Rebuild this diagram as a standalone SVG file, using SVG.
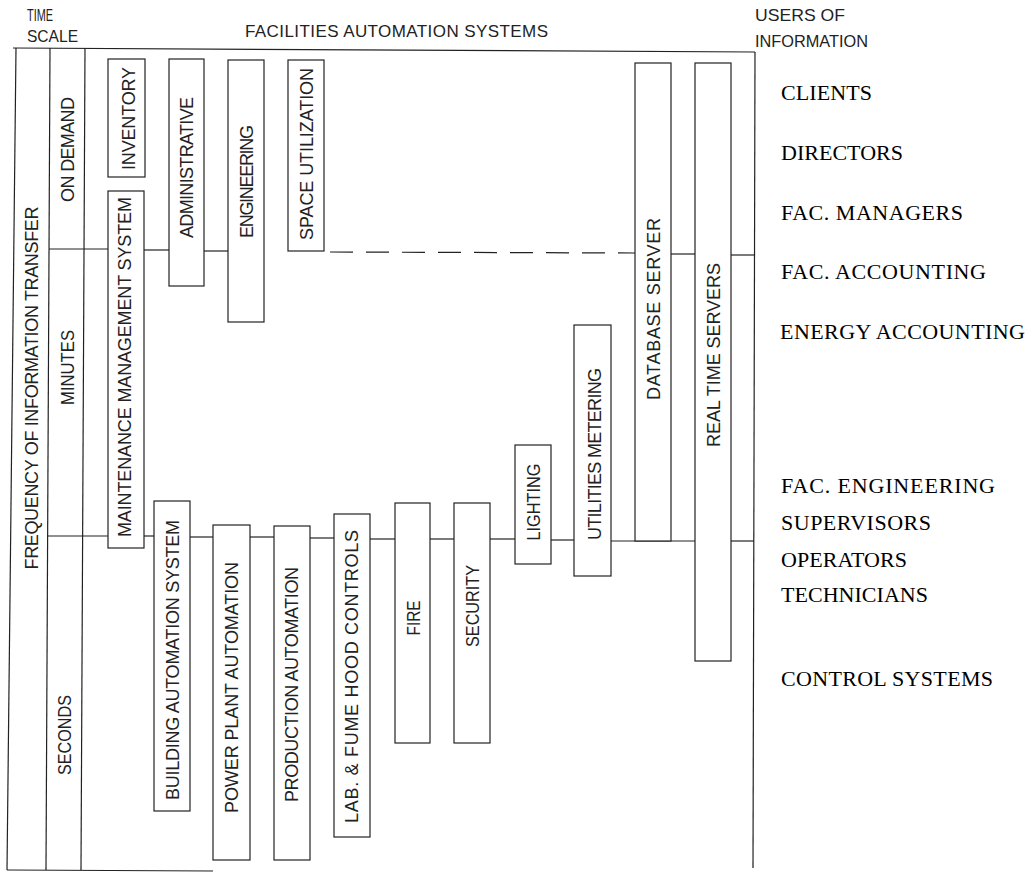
<svg xmlns="http://www.w3.org/2000/svg" width="1034" height="872" viewBox="0 0 1034 872">
<style>
.bg{fill:#fff}
.ln{stroke:#222;stroke-width:1.2;fill:none}
.bx{stroke:#222;stroke-width:1.2;fill:#fff}
.dash{stroke:#222;stroke-width:1.2;fill:none;stroke-dasharray:23 13}
.s{font-family:"Liberation Sans",Arial,sans-serif;font-size:17px;fill:#222}
.v{font-family:"Liberation Sans",Arial,sans-serif;font-size:18px;fill:#222;text-anchor:middle}
.r{font-family:"Liberation Serif","Times New Roman",serif;font-size:22px;fill:#000}
</style>
<rect class="bg" x="0" y="0" width="1034" height="872"/>

<g id="headers">
<text class="s" x="27" y="21" textLength="26" lengthAdjust="spacingAndGlyphs">TIME</text>
<text class="s" x="27" y="42" textLength="51" lengthAdjust="spacingAndGlyphs">SCALE</text>
<text class="s" x="245" y="37" textLength="303" lengthAdjust="spacing">FACILITIES AUTOMATION SYSTEMS</text>
<text class="s" x="755" y="21" textLength="90" lengthAdjust="spacingAndGlyphs">USERS OF</text>
<text class="s" x="755" y="47" textLength="113" lengthAdjust="spacingAndGlyphs">INFORMATION</text>
</g>

<g id="frame">
<path class="ln" d="M13 48 L755 52"/>
<path class="ln" d="M16 48 L7 870"/>
<path class="ln" d="M50 48 L46 870"/>
<path class="ln" d="M85 48 L81 870"/>
<path class="ln" d="M7 870 L213 871"/>
<path class="ln" d="M755 52 L753 868"/>
</g>

<g id="connectors">
<path class="ln" d="M49 249 L108 249"/>
<path class="ln" d="M144 250 L169 250"/>
<path class="ln" d="M204 251 L228 251"/>
<path class="dash" d="M330 252 L635 253"/>
<path class="ln" d="M671 254 L695 254"/>
<path class="ln" d="M731 255 L754 255"/>

<path class="ln" d="M48 536 L108 536"/>
<path class="ln" d="M144 536 L154 536"/>
<path class="ln" d="M190 537 L213 537"/>
<path class="ln" d="M250 537 L274 537"/>
<path class="ln" d="M310 538 L334 538"/>
<path class="ln" d="M370 539 L395 539"/>
<path class="ln" d="M430 539 L454 539"/>
<path class="ln" d="M490 539 L515 539"/>
<path class="ln" d="M551 540 L574 540"/>
<path class="ln" d="M611 541 L695 541"/>
<path class="ln" d="M731 541 L754 541"/>
</g>

<g id="time-scale">
<text class="v" transform="translate(31,388) rotate(-90)" y="6.5" textLength="363" lengthAdjust="spacing">FREQUENCY OF INFORMATION TRANSFER</text>
<text class="v" transform="translate(67.5,149.5) rotate(-90)" y="6.5" textLength="105" lengthAdjust="spacing">ON DEMAND</text>
<text class="v" transform="translate(67,367.5) rotate(-90)" y="6.5" textLength="75" lengthAdjust="spacingAndGlyphs">MINUTES</text>
<text class="v" transform="translate(64.5,735) rotate(-90)" y="6.5" textLength="80" lengthAdjust="spacingAndGlyphs">SECONDS</text>
</g>

<g id="inventory">
<rect class="bx" x="108" y="59" width="37" height="118"/>
<text class="v" transform="translate(128.5,118.5) rotate(-90)" y="6.5" textLength="103" lengthAdjust="spacing">INVENTORY</text>
</g>
<g id="maintenance">
<rect class="bx" x="108" y="191" width="36" height="357"/>
<text class="v" transform="translate(124,367) rotate(-90)" y="6.5" textLength="340" lengthAdjust="spacing">MAINTENANCE MANAGEMENT SYSTEM</text>
</g>
<g id="administrative">
<rect class="bx" x="169" y="59" width="35" height="227"/>
<text class="v" transform="translate(186.5,167.5) rotate(-90)" y="6.5" textLength="141" lengthAdjust="spacing">ADMINISTRATIVE</text>
</g>
<g id="engineering">
<rect class="bx" x="228" y="60" width="36" height="262"/>
<text class="v" transform="translate(246.5,181.5) rotate(-90)" y="6.5" textLength="113" lengthAdjust="spacing">ENGINEERING</text>
</g>
<g id="space-utilization">
<rect class="bx" x="288" y="60" width="36" height="191"/>
<text class="v" transform="translate(306,154) rotate(-90)" y="6.5" textLength="172" lengthAdjust="spacing">SPACE UTILIZATION</text>
</g>
<g id="database-server">
<rect class="bx" x="635" y="63" width="36" height="478"/>
<text class="v" transform="translate(653,309) rotate(-90)" y="6.5" textLength="182" lengthAdjust="spacing">DATABASE SERVER</text>
</g>
<g id="real-time-servers">
<rect class="bx" x="695" y="63" width="36" height="598"/>
<text class="v" transform="translate(713,355) rotate(-90)" y="6.5" textLength="184" lengthAdjust="spacing">REAL TIME SERVERS</text>
</g>
<g id="building-automation">
<rect class="bx" x="154" y="501" width="36" height="310"/>
<text class="v" transform="translate(172,660) rotate(-90)" y="6.5" textLength="280" lengthAdjust="spacing">BUILDING AUTOMATION SYSTEM</text>
</g>
<g id="power-plant">
<rect class="bx" x="213" y="525" width="37" height="335"/>
<text class="v" transform="translate(231,687.5) rotate(-90)" y="6.5" textLength="251" lengthAdjust="spacing">POWER PLANT AUTOMATION</text>
</g>
<g id="production">
<rect class="bx" x="274" y="526" width="36" height="334"/>
<text class="v" transform="translate(291,684.5) rotate(-90)" y="6.5" textLength="235" lengthAdjust="spacing">PRODUCTION AUTOMATION</text>
</g>
<g id="lab-fume-hood">
<rect class="bx" x="334" y="514" width="36" height="323"/>
<text class="v" transform="translate(351,676.5) rotate(-90)" y="6.5" textLength="293" lengthAdjust="spacing">LAB. &amp; FUME HOOD CONTROLS</text>
</g>
<g id="fire">
<rect class="bx" x="395" y="503" width="35" height="240"/>
<text class="v" transform="translate(413,618) rotate(-90)" y="6.5" textLength="35" lengthAdjust="spacingAndGlyphs">FIRE</text>
</g>
<g id="security">
<rect class="bx" x="454" y="503" width="36" height="240"/>
<text class="v" transform="translate(472,606) rotate(-90)" y="6.5" textLength="82" lengthAdjust="spacingAndGlyphs">SECURITY</text>
</g>
<g id="lighting">
<rect class="bx" x="515" y="445" width="36" height="119"/>
<text class="v" transform="translate(533,502) rotate(-90)" y="6.5" textLength="77" lengthAdjust="spacingAndGlyphs">LIGHTING</text>
</g>
<g id="utilities-metering">
<rect class="bx" x="574" y="325" width="37" height="251"/>
<text class="v" transform="translate(594,454) rotate(-90)" y="6.5" textLength="172" lengthAdjust="spacing">UTILITIES METERING</text>
</g>

<g id="users">
<text class="r" x="781" y="100" textLength="91">CLIENTS</text>
<text class="r" x="781" y="160" textLength="122">DIRECTORS</text>
<text class="r" x="781" y="220" textLength="182">FAC. MANAGERS</text>
<text class="r" x="781" y="279" textLength="205">FAC. ACCOUNTING</text>
<text class="r" x="780" y="339" textLength="245">ENERGY ACCOUNTING</text>
<text class="r" x="781" y="493" textLength="214">FAC. ENGINEERING</text>
<text class="r" x="781" y="530" textLength="150">SUPERVISORS</text>
<text class="r" x="781" y="567" textLength="126">OPERATORS</text>
<text class="r" x="781" y="602" textLength="147">TECHNICIANS</text>
<text class="r" x="781" y="686" textLength="212">CONTROL SYSTEMS</text>
</g>
</svg>
